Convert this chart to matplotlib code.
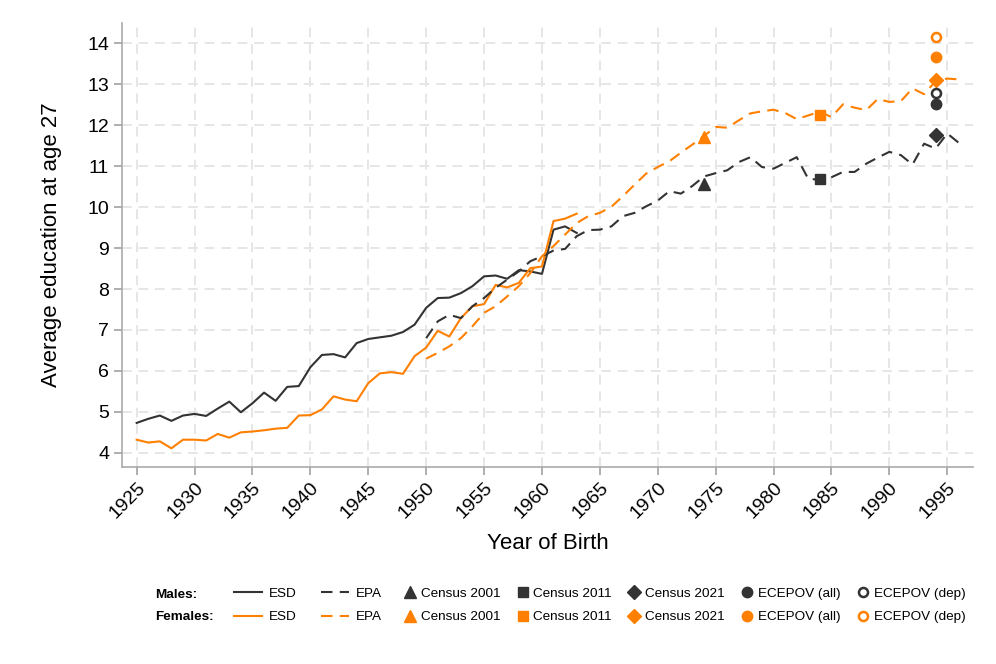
import numpy as np
import matplotlib
matplotlib.use('Agg')
import matplotlib.pyplot as plt

plt.rcParams['font.family'] = ['Liberation Sans', 'DejaVu Sans']

# data
years_esd = list(range(1925, 1964))
male_esd = [4.73, 4.83, 4.91, 4.78, 4.91, 4.95, 4.90, 5.08, 5.25, 4.99,
            5.21, 5.47, 5.27, 5.61, 5.63, 6.09, 6.39, 6.41, 6.33, 6.68,
            6.78, 6.82, 6.86, 6.95, 7.13, 7.54, 7.78, 7.79, 7.90, 8.07,
            8.31, 8.33, 8.25, 8.46, 8.43, 8.37, 9.45, 9.53, 9.37]
female_esd = [4.32, 4.25, 4.28, 4.11, 4.32, 4.32, 4.30, 4.46, 4.37, 4.50,
              4.52, 4.55, 4.59, 4.61, 4.91, 4.92, 5.06, 5.38, 5.30, 5.26,
              5.70, 5.94, 5.97, 5.93, 6.36, 6.57, 6.98, 6.84, 7.29, 7.58,
              7.63, 8.10, 8.04, 8.15, 8.51, 8.55, 9.66, 9.72, 9.84]

years_epa = list(range(1950, 1997))
male_epa = [6.80, 7.21, 7.37, 7.29, 7.58, 7.78, 8.03, 8.23, 8.43, 8.68,
            8.80, 8.94, 8.98, 9.29, 9.44, 9.45, 9.53, 9.78, 9.86, 10.02,
            10.16, 10.39, 10.33, 10.52, 10.75, 10.83, 10.90, 11.10, 11.22, 10.98,
            10.94, 11.08, 11.22, 10.69, 10.67, 10.73, 10.86, 10.86, 11.06, 11.21,
            11.35, 11.27, 11.04, 11.55, 11.43, 11.80, 11.57]
female_epa = [6.30, 6.44, 6.60, 6.80, 7.09, 7.42, 7.58, 7.82, 8.07, 8.39,
              8.80, 9.05, 9.33, 9.61, 9.78, 9.86, 10.01, 10.27, 10.55, 10.82,
              10.98, 11.12, 11.33, 11.53, 11.74, 11.96, 11.94, 12.12, 12.29, 12.34,
              12.38, 12.30, 12.15, 12.24, 12.33, 12.20, 12.51, 12.43, 12.37, 12.64,
              12.57, 12.59, 12.90, 12.76, 13.08, 13.14, 13.12]

# census / survey points
census_years = [1974, 1984, 1994]
male_census = [10.57, 10.69, 11.76]
female_census = [11.71, 12.26, 13.10]
ecepov_year = 1994
male_ecepov = [12.51, 12.78]     # all, dep
female_ecepov = [13.67, 14.16]

dark = '#333333'
orange = '#ff8000'

fig = plt.figure(figsize=(9.96, 6.64), dpi=100)
ax = fig.add_axes([0.1228, 0.2971, 0.8544, 0.6678])

m_esd, = ax.plot(years_esd, male_esd, color=dark, lw=1.5)
f_esd, = ax.plot(years_esd, female_esd, color=orange, lw=1.5)
m_epa, = ax.plot(years_epa, male_epa, color=dark, lw=1.5, dashes=(5.5, 3.5))
f_epa, = ax.plot(years_epa, female_epa, color=orange, lw=1.5, dashes=(5.5, 3.5))

mk = dict(ls='none', zorder=5)
m_c01, = ax.plot(census_years[0], male_census[0], marker='^', ms=9, color=dark, **mk)
f_c01, = ax.plot(census_years[0], female_census[0], marker='^', ms=9, color=orange, **mk)
m_c11, = ax.plot(census_years[1], male_census[1], marker='s', ms=7.5, color=dark, **mk)
f_c11, = ax.plot(census_years[1], female_census[1], marker='s', ms=7.5, color=orange, **mk)
m_c21, = ax.plot(census_years[2], male_census[2], marker='D', ms=7, color=dark, **mk)
f_c21, = ax.plot(census_years[2], female_census[2], marker='D', ms=7, color=orange, **mk)
m_all, = ax.plot(ecepov_year, male_ecepov[0], marker='o', ms=7.5, color=dark, **mk)
f_all, = ax.plot(ecepov_year, female_ecepov[0], marker='o', ms=7.5, color=orange, **mk)
m_dep, = ax.plot(ecepov_year, male_ecepov[1], marker='o', ms=6.5, mfc='white', mec=dark, mew=1.8, **mk)
f_dep, = ax.plot(ecepov_year, female_ecepov[1], marker='o', ms=6.5, mfc='white', mec=orange, mew=1.8, **mk)

ax.set_xlim(1923.76, 1997.25)
ax.set_ylim(3.66, 14.49)
ax.set_xticks(range(1925, 1996, 5))
ax.set_yticks(range(4, 15))
ax.grid(True, color='#e6e6e6', lw=1.4, dashes=(5, 3.5))
ax.set_axisbelow(True)

for s in ['top', 'right']:
    ax.spines[s].set_visible(False)
for s in ['left', 'bottom']:
    ax.spines[s].set_color('#aaaaaa')
    ax.spines[s].set_linewidth(1.2)
ax.tick_params(length=6, width=1.1, color='#999999', labelsize=14, pad=3.5)
ax.tick_params(axis='x', pad=3)
plt.setp(ax.get_xticklabels(), rotation=45, ha='right', va='top', rotation_mode='anchor')

ax.set_xlabel('Year of Birth', fontsize=16, labelpad=8)
ax.set_ylabel('Average education at age 27', fontsize=16, labelpad=18)

# legend rows
yleg = 1 - 605.5 / 664
common = dict(frameon=False, fontsize=9.7, borderpad=0, borderaxespad=0,
              labelspacing=0.8, loc='center left')
fig.legend([m_esd, f_esd, m_epa, f_epa], ['ESD', 'ESD', 'EPA', 'EPA'], ncol=2,
           bbox_to_anchor=(234.3 / 996, yleg), handlelength=2.03,
           handletextpad=0.56, columnspacing=1.8, **common)
fig.legend([m_c01, f_c01, m_c11, f_c11, m_c21, f_c21, m_all, f_all, m_dep, f_dep],
           ['Census 2001'] * 2 + ['Census 2011'] * 2 + ['Census 2021'] * 2
           + ['ECEPOV (all)'] * 2 + ['ECEPOV (dep)'] * 2,
           ncol=5, bbox_to_anchor=(404.6 / 996, yleg), handlelength=0.8,
           handletextpad=0.4, columnspacing=1.26, **common)
fig.text(155 / 996, 1 - 594.5 / 664, 'Males:', fontsize=9.7, weight='bold', va='center')
fig.text(155 / 996, 1 - 617.5 / 664, 'Females:', fontsize=9.7, weight='bold', va='center')

fig.savefig('out.png', dpi=100)
